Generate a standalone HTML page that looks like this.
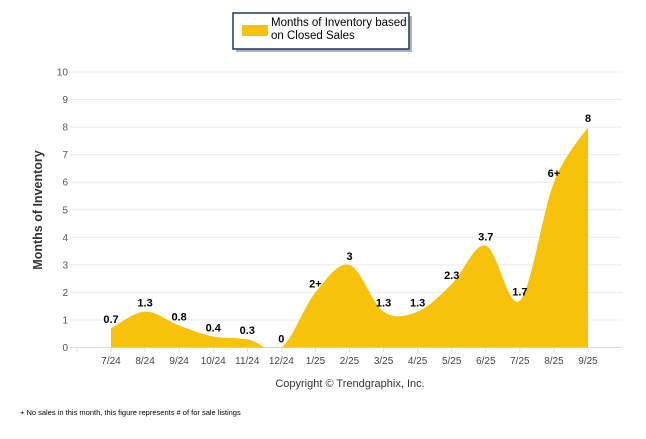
<!DOCTYPE html>
<html><head><meta charset="utf-8"><style>
body{margin:0;background:#fff;width:646px;height:434px;overflow:hidden;font-family:"Liberation Sans",sans-serif}
</style></head><body>
<svg id="c" width="646" height="434" xmlns="http://www.w3.org/2000/svg">
<defs><clipPath id="clip"><rect x="70" y="60" width="560" height="288"/></clipPath></defs>
<g>
<rect x="236" y="16" width="176" height="36" fill="#666" opacity="0.5"/>
<rect x="233" y="13" width="176" height="36" fill="#fff" stroke="#1f3864" stroke-width="1.5"/>
<rect x="242" y="25" width="26" height="11" fill="#f7c30a"/>
<text x="271" y="26" font-size="11.5" fill="#000"><tspan x="271">Months of Inventory based</tspan><tspan x="271" dy="13">on Closed Sales</tspan></text>
</g>
<g id="grid"></g>
<path id="area" fill="#f7c30a" clip-path="url(#clip)"/>
<g id="labels"></g>
<text transform="translate(42,210) rotate(-90)" text-anchor="middle" font-size="12.5" font-weight="bold" fill="#333">Months of Inventory</text>
<text x="350" y="387" text-anchor="middle" font-size="11" fill="#333">Copyright © Trendgraphix, Inc.</text>
<text x="20" y="415" font-size="7.5" fill="#000">+  No sales in this month, this figure represents # of for sale listings</text>
</svg>
<script>
const categories=["7/24","8/24","9/24","10/24","11/24","12/24","1/25","2/25","3/25","4/25","5/25","6/25","7/25","8/25","9/25"];
const values=[0.7,1.3,0.8,0.4,0.3,0,2,3,1.3,1.3,2.3,3.7,1.7,6,8];
const valueLabels=["0.7","1.3","0.8","0.4","0.3","0","2+","3","1.3","1.3","2.3","3.7","1.7","6+","8"];
const yTicks=[0,1,2,3,4,5,6,7,8,9,10];
const NS="http://www.w3.org/2000/svg";
const x=i=>111+i*(588-111)/(categories.length-1);
const y=v=>347.5-v*27.55;
function mk(t,a,p){const e=document.createElementNS(NS,t);for(const k in a)e.setAttribute(k,a[k]);p.appendChild(e);return e;}
const grid=document.getElementById('grid');
yTicks.forEach(v=>{
 const l=mk('line',{x1:70,x2:622,y1:y(v),y2:y(v),stroke:v===0?'#ddd':'#ebebeb'},grid);
 
 
 const t=mk('text',{x:68,y:y(v)+3.5,'text-anchor':'end','font-size':'10',fill:'#555'},grid);
 t.textContent=v;
 
 
});
[77].concat(categories.map((c,i)=>x(i))).forEach(px=>{mk('line',{x1:px,x2:px,y1:348,y2:352,stroke:'#ddd'},grid);});
categories.forEach((c,i)=>{
 const t=mk('text',{x:x(i),y:364,'text-anchor':'middle','font-size':'10',fill:'#444'},grid);
 t.textContent=c;
 
 
});
const P=values.map((v,i)=>[x(i),y(v)]);
let d=`M${P[0][0]},${y(0)}L${P[0][0]},${P[0][1]}`;
for(let i=0;i<P.length-1;i++){
 const p0=P[Math.max(i-1,0)],p1=P[i],p2=P[i+1],p3=P[Math.min(i+2,P.length-1)];
 const k=6;
 d+=`C${p1[0]+(p2[0]-p0[0])/k},${p1[1]+(p2[1]-p0[1])/k} ${p2[0]-(p3[0]-p1[0])/k},${p2[1]-(p3[1]-p1[1])/k} ${p2[0]},${p2[1]}`;
}
d+=`L${P[P.length-1][0]},${y(0)}Z`;
document.getElementById('area').setAttribute('d',d);
const lab=document.getElementById('labels');
values.forEach((v,i)=>{
 const t=mk('text',{x:x(i),y:y(v)-5,'text-anchor':'middle','font-size':'11','font-weight':'bold',fill:'#000'},lab);
 t.textContent=valueLabels[i];
 
 
});
</script>
</body></html>
